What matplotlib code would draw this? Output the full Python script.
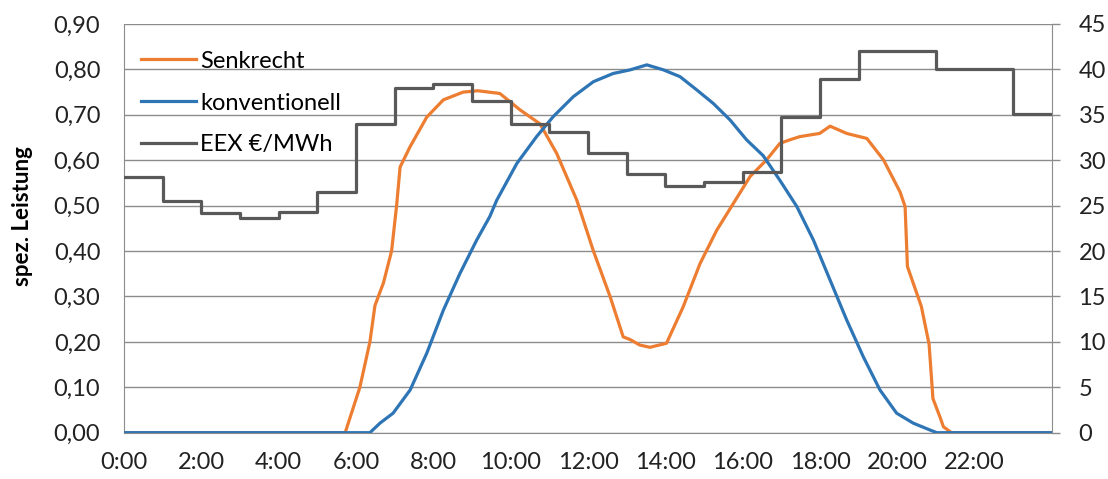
import matplotlib
matplotlib.use("Agg")
import matplotlib.pyplot as plt
from matplotlib.lines import Line2D
from matplotlib.ticker import FuncFormatter, MultipleLocator

# ---- data ----
eex_hours = list(range(25))
eex_price = [28.2, 25.5, 24.2, 23.6, 24.3, 26.5, 34.0, 38.0, 38.4, 36.5, 34.0, 33.1,
             30.8, 28.5, 27.2, 27.6, 28.7, 34.8, 38.9, 42.0, 42.0, 40.0, 40.0, 35.1]

senk_t = [0.0, 5.72, 6.10, 6.36, 6.49, 6.71, 6.92, 7.05, 7.14, 7.40, 7.83, 8.26, 8.77,
          9.15, 9.72, 10.24, 10.76, 11.19, 11.71, 12.14, 12.57, 12.91, 13.09, 13.34,
          13.60, 14.03, 14.46, 14.90, 15.33, 15.76, 16.19, 16.62, 16.96, 17.22, 17.48,
          17.99, 18.26, 18.69, 19.21, 19.64, 20.07, 20.20, 20.26, 20.62, 20.82, 20.92,
          21.10, 21.19, 21.40, 24.0]
senk_v = [0.0, 0.0, 0.10, 0.20, 0.28, 0.33, 0.40, 0.50, 0.585, 0.63, 0.695, 0.733, 0.750,
          0.753, 0.747, 0.711, 0.680, 0.615, 0.512, 0.400, 0.300, 0.211, 0.205, 0.193,
          0.188, 0.197, 0.277, 0.373, 0.446, 0.505, 0.564, 0.601, 0.637, 0.645, 0.652,
          0.659, 0.675, 0.659, 0.648, 0.601, 0.530, 0.498, 0.366, 0.278, 0.195, 0.075,
          0.035, 0.013, 0.0, 0.0]

konv_t = [0.0, 6.36, 6.62, 6.96, 7.40, 7.83, 8.26, 8.69, 9.12, 9.46, 9.64, 10.16, 10.67,
          11.10, 11.62, 12.14, 12.65, 13.09, 13.52, 13.95, 14.38, 14.81, 15.24, 15.67,
          16.10, 16.53, 16.96, 17.40, 17.83, 18.26, 18.69, 19.12, 19.55, 19.98, 20.41,
          20.84, 21.02, 24.0]
konv_v = [0.0, 0.0, 0.021, 0.043, 0.094, 0.175, 0.270, 0.351, 0.424, 0.476, 0.512, 0.593,
          0.652, 0.696, 0.740, 0.773, 0.791, 0.799, 0.810, 0.799, 0.784, 0.755, 0.725,
          0.689, 0.645, 0.610, 0.556, 0.498, 0.424, 0.336, 0.248, 0.167, 0.094, 0.043,
          0.021, 0.006, 0.0, 0.0]

x_ticks = list(range(0, 24, 2))
x_labels = [f"{h}:00" for h in x_ticks]

# ---- style ----
C_ORANGE = "#ED7D31"
C_BLUE = "#2E75B6"
C_GRAY = "#595959"
C_GRID = "#8C8C8C"
FONT = ["Lato", "DejaVu Sans"]
plt.rcParams["font.family"] = FONT
FS = 17

fig = plt.figure(figsize=(11.08, 4.79), dpi=100)
ax = fig.add_axes([0.1119, 0.0967, 0.8376, 0.8532])
ax2 = ax.twinx()

LW = 2.3
ax.plot(senk_t, senk_v, color=C_ORANGE, lw=LW, solid_joinstyle="round", zorder=3)
ax.plot(konv_t, konv_v, color=C_BLUE, lw=LW, solid_joinstyle="round", zorder=4)
ax2.plot(eex_hours, eex_price + [eex_price[-1]], color=C_GRAY, lw=LW,
         drawstyle="steps-post", zorder=5)

ax.set_xlim(0, 24)
ax.set_ylim(0, 0.9)
ax2.set_ylim(0, 45)
ax.yaxis.set_major_locator(MultipleLocator(0.1))
ax2.yaxis.set_major_locator(MultipleLocator(5))
ax.yaxis.set_major_formatter(FuncFormatter(lambda v, p: f"{v:.2f}".replace(".", ",")))
ax.set_xticks(x_ticks)
ax.set_xticklabels(x_labels)

ax.grid(axis="y", color=C_GRID, lw=1.0)
ax.set_axisbelow(True)

for a in (ax, ax2):
    for s in a.spines.values():
        s.set_visible(False)
ax.spines["left"].set_visible(True)
ax.spines["left"].set_color(C_GRID)
ax.spines["bottom"].set_visible(True)
ax.spines["bottom"].set_color(C_GRID)
ax2.spines["right"].set_visible(True)
ax2.spines["right"].set_color(C_GRID)

ax.tick_params(axis="y", length=0, pad=17, labelsize=FS, labelcolor="#222222")
ax.tick_params(axis="x", length=0, pad=14, labelsize=FS, labelcolor="#222222")
ax2.tick_params(axis="y", length=6, width=1, color=C_GRID, direction="out", pad=13,
                labelsize=FS, labelcolor="#222222")

ax.set_ylabel("spez. Leistung", fontsize=16, fontweight="bold")
ax.yaxis.set_label_coords(-0.098, 0.53)

handles = [Line2D([], [], color=C_ORANGE, lw=LW),
           Line2D([], [], color=C_BLUE, lw=LW),
           Line2D([], [], color=C_GRAY, lw=LW)]
labels = ["Senkrecht", "konventionell", "EEX €/MWh"]
ax2.legend(handles, labels, loc="upper left", bbox_to_anchor=(0.0, 0.975),
           frameon=False, fontsize=FS, handlelength=2.33, handletextpad=0.2,
           labelspacing=0.88, borderaxespad=0.3)

fig.savefig("out.png", dpi=100)
